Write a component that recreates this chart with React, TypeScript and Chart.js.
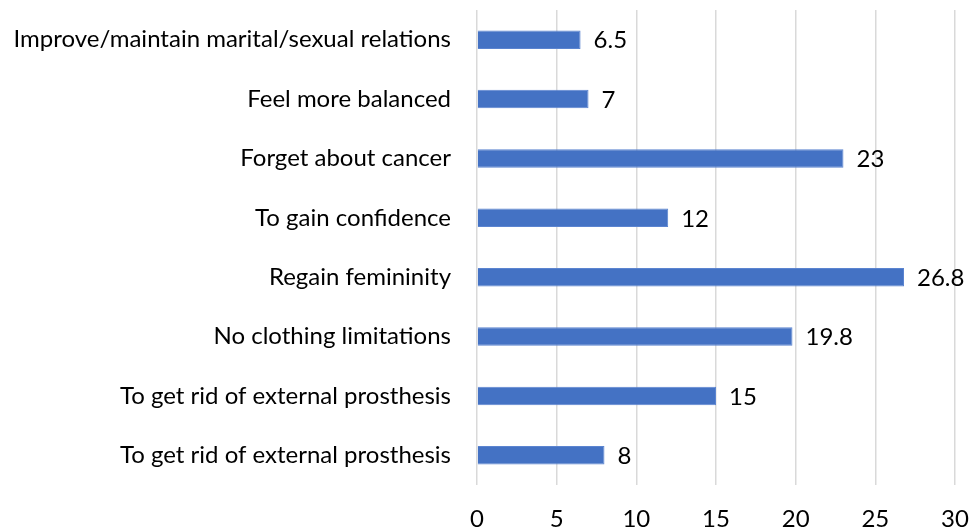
import React, { useEffect, useRef } from "react";
import { Chart, registerables } from "chart.js";

Chart.register(...registerables);

const categories = [
  "Improve/maintain marital/sexual relations",
  "Feel more balanced",
  "Forget about cancer",
  "To gain confidence",
  "Regain femininity",
  "No clothing limitations",
  "To get rid of external prosthesis",
  "To get rid of external prosthesis",
];
const values = [6.5, 7, 23, 12, 26.8, 19.8, 15, 8];
const xTicks = [0, 5, 10, 15, 20, 25, 30];

const FONT = "Lato, Carlito, 'Open Sans', sans-serif";
const FS = 24;

const valueLabels = {
  id: "valueLabels",
  afterDatasetsDraw(chart: any) {
    const ctx = chart.ctx;
    const meta = chart.getDatasetMeta(0);
    ctx.save();
    ctx.font = `${FS}px ${FONT}`;
    ctx.fillStyle = "#000";
    ctx.textAlign = "left";
    ctx.textBaseline = "middle";
    meta.data.forEach((bar: any, i: number) => {
      ctx.fillText(String(values[i]), bar.x + 13, bar.y + 1);
    });
    ctx.restore();
  },
};

export default function App() {
  const ref = useRef<HTMLCanvasElement>(null);
  useEffect(() => {
    document.body.style.margin = "0";
    const chart = new Chart(ref.current!, {
      type: "bar",
      data: {
        labels: categories,
        datasets: [
          {
            data: values,
            backgroundColor: "#4472C4",
            borderColor: "#5B84D0",
            borderWidth: 1,
            barPercentage: 0.31,
            categoryPercentage: 1,
          },
        ],
      },
      plugins: [valueLabels],
      options: {
        indexAxis: "y",
        animation: false,
        responsive: false,
        maintainAspectRatio: false,
        layout: { padding: { top: 10, right: 15, left: 0, bottom: 0 } },
        plugins: { legend: { display: false }, tooltip: { enabled: false } },
        scales: {
          x: {
            min: 0,
            max: 30,
            afterBuildTicks: (scale: any) => {
              scale.ticks = xTicks.map((v) => ({ value: v }));
            },
            afterFit: (scale: any) => {
              scale.height = 44;
              scale.paddingLeft = 0;
              scale.paddingRight = 0;
              scale.paddingTop = 0;
              scale.paddingBottom = 0;
            },
            grid: { color: "#d9d9d9", lineWidth: 1.5, drawTicks: false },
            border: { display: false },
            ticks: {
              padding: 20,
              color: "#000",
              font: { family: FONT, size: FS },
            },
          },
          y: {
            afterFit: (scale: any) => {
              scale.width = 477;
              scale.paddingLeft = 0;
              scale.paddingRight = 0;
              scale.paddingTop = 0;
              scale.paddingBottom = 0;
            },
            grid: { display: false, drawTicks: false },
            border: { display: false },
            ticks: {
              padding: 26,
              color: "#000",
              font: { family: FONT, size: FS },
              autoSkip: false,
            },
          },
        },
      },
    });
    return () => chart.destroy();
  }, []);
  return (
    <div style={{ width: 970, height: 529 }}>
      <canvas ref={ref} width={970} height={529} style={{ display: "block" }} />
    </div>
  );
}
